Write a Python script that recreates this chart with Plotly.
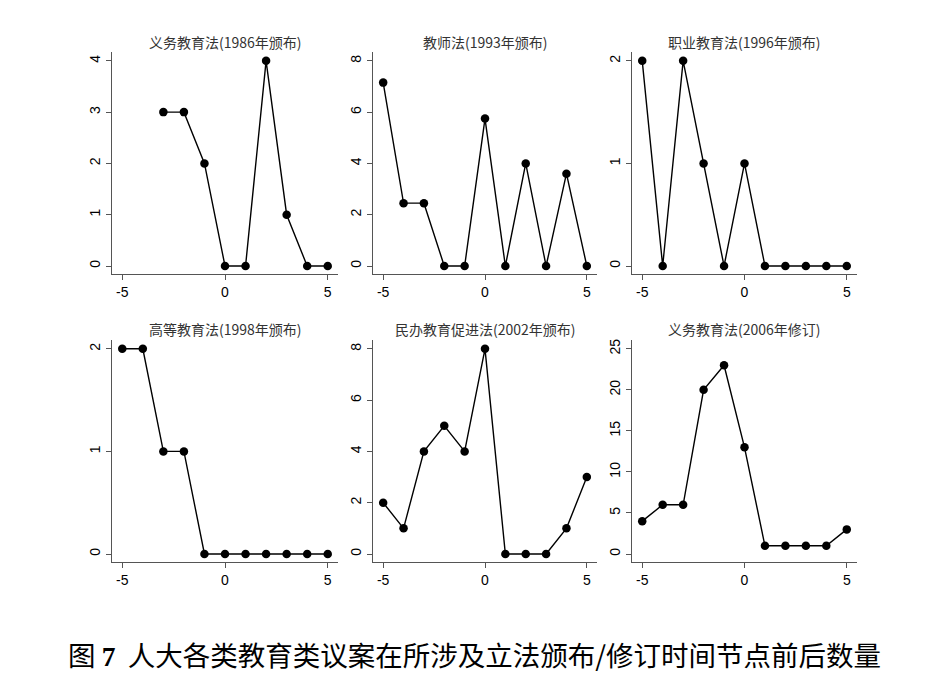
import plotly.graph_objects as go

W, H = 926, 682

titles = ["义务教育法(1986年颁布)", "教师法(1993年颁布)", "职业教育法(1996年颁布)",
          "高等教育法(1998年颁布)", "民办教育促进法(2002年颁布)", "义务教育法(2006年修订)"]

x_full = [-5, -4, -3, -2, -1, 0, 1, 2, 3, 4, 5]
x_p1 = [-3, -2, -1, 0, 1, 2, 3, 4, 5]
y_p1 = [3, 3, 2, 0, 0, 4, 1, 0, 0]
y_p2 = [7.15, 2.45, 2.45, 0, 0, 5.75, 0, 4, 0, 3.6, 0]
y_p3 = [2, 0, 2, 1, 0, 1, 0, 0, 0, 0, 0]
y_p4 = [2, 2, 1, 1, 0, 0, 0, 0, 0, 0, 0]
y_p5 = [2, 1, 4, 5, 4, 8, 0, 0, 0, 1, 3]
y_p6 = [4, 6, 6, 20, 23, 13, 1, 1, 1, 1, 3]

xs = [x_p1, x_full, x_full, x_full, x_full, x_full]
ys = [y_p1, y_p2, y_p3, y_p4, y_p5, y_p6]
yticks = [[0, 1, 2, 3, 4], [0, 2, 4, 6, 8], [0, 1, 2],
          [0, 1, 2], [0, 2, 4, 6, 8], [0, 5, 10, 15, 20, 25]]
xticks = [-5, 0, 5]

caption = ("图 <span style='font-family:Liberation Serif;font-weight:bold'>7</span>"
           "  人大各类教育类议案在所涉及立法颁布/修订时间节点前后数量")

# pixel layout of plot areas
col_px = [(112, 338), (373, 597), (632, 857)]
row_px = [(52, 274), (340, 562)]
title_y_px = [42, 329]

fig = go.Figure()
axis_col = "#555555"
for i in range(6):
    r, c = divmod(i, 3)
    n = i + 1
    xa = "x" if n == 1 else f"x{n}"
    ya = "y" if n == 1 else f"y{n}"
    fig.add_trace(go.Scatter(
        x=xs[i], y=ys[i], mode="lines+markers", xaxis=xa, yaxis=ya,
        line=dict(color="black", width=1.4),
        marker=dict(color="black", size=8.5), showlegend=False))
    x0, x1 = col_px[c]
    y0, y1 = row_px[r]
    top = max(yticks[i])
    yr = [-0.039 * top, top * 1.043]
    common = dict(showgrid=False, zeroline=False, showline=True, linecolor=axis_col,
                  linewidth=1.3, ticks="outside", ticklen=5, tickcolor=axis_col,
                  tickwidth=1.2, tickfont=dict(family="Liberation Sans, Arial", size=14, color="black"))
    fig.layout[f"xaxis{'' if n == 1 else n}"] = dict(
        domain=[x0 / W, x1 / W], anchor=ya, range=[-5.5, 5.5],
        tickvals=xticks, ticktext=[str(t) for t in xticks], **common)
    fig.layout[f"yaxis{'' if n == 1 else n}"] = dict(
        domain=[1 - y1 / H, 1 - y0 / H], anchor=xa, range=yr,
        tickvals=yticks[i], ticktext=[str(t) for t in yticks[i]], tickangle=-90, **common)
    fig.add_annotation(x=(x0 + x1) / 2 / W, y=1 - title_y_px[r] / H, xref="paper", yref="paper",
                       text=titles[i], showarrow=False, xanchor="center", yanchor="middle",
                       font=dict(family="Noto Sans CJK SC, Liberation Sans", size=14, color="#333333"))

fig.add_annotation(x=474 / W, y=1 - 654 / H, xref="paper", yref="paper",
                   text=caption, showarrow=False, xanchor="center", yanchor="middle",
                   font=dict(family="Noto Sans CJK SC", size=27.5, color="black"))

fig.update_layout(width=W, height=H, margin=dict(l=0, r=0, t=0, b=0),
                  paper_bgcolor="white", plot_bgcolor="white")
fig.write_html("out.html")
